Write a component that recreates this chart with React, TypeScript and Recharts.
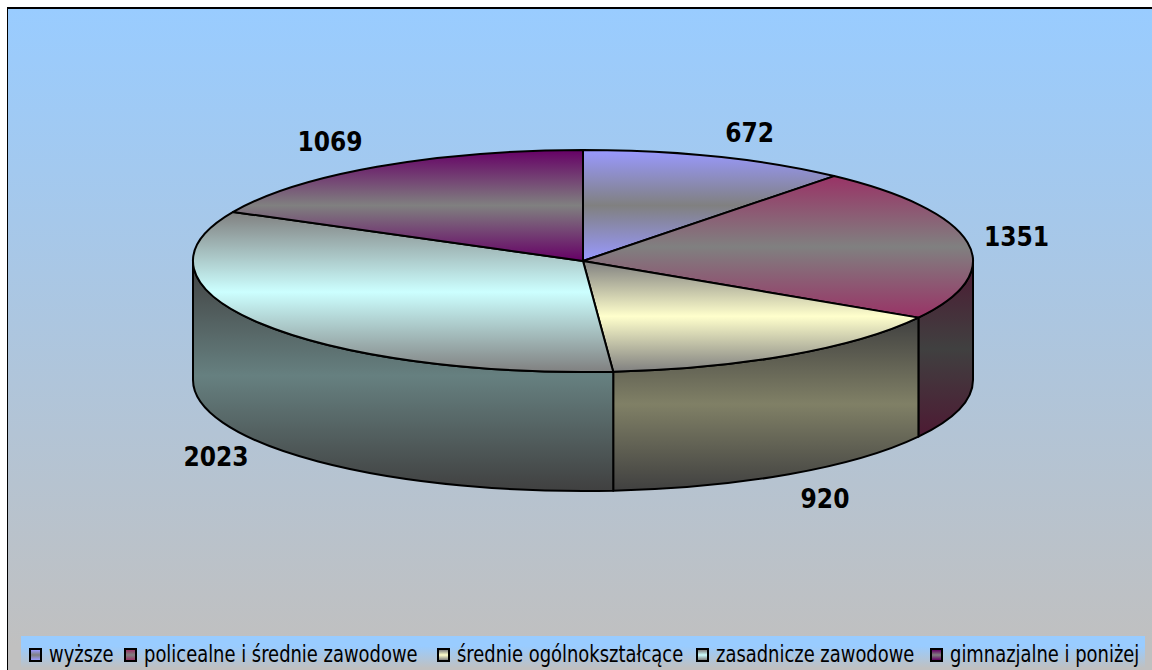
import { Legend, Pie, PieChart } from 'recharts'

const categories = ['wyższe', 'policealne i średnie zawodowe', 'średnie ogólnokształcące', 'zasadnicze zawodowe', 'gimnazjalne i poniżej']
const values = [672, 1351, 920, 2023, 1069]
const topEdge = ['#9999ff', '#993366', '#808080', '#808080', '#660066']
const topMiddle = ['#808080', '#808080', '#ffffcc', '#ccffff', '#808080']
const wallEdge = ['#4d4d80', '#4d1a33', '#404040', '#404040', '#330033']
const wallMiddle = ['#404040', '#404040', '#808066', '#668080', '#404040']
// where each value label sits relative to the rim of its slice
const labelNudgeX = [33, 49, 36, -44, -47]
const labelNudgeY = [-24, -5, 144, 134, -25]
const legendLeft = [29, 124, 437, 696, 930]

const RX = 390
const RY = 111
const DEPTH = 119
const CX = 583
const CY = 261

const data = categories.map((name, i) => ({ name, value: values[i], fill: topEdge[i] }))

function rim(angle: number, drop = 0) {
  const rad = (angle * Math.PI) / 180
  return `${CX + RX * Math.cos(rad)} ${CY - RY * Math.sin(rad) + drop}`
}

function Slice3D(props: any) {
  const { startAngle, endAngle, index } = props
  const large = startAngle - endAngle > 180 ? 1 : 0
  const wallStart = Math.min(startAngle, 0)
  const wallEnd = Math.max(endAngle, -180)
  const hasWall = wallStart > wallEnd
  return (
    <g>
      {hasWall && (
        <path
          d={`M ${rim(wallStart)} A ${RX} ${RY} 0 0 1 ${rim(wallEnd)} L ${rim(wallEnd, DEPTH)} A ${RX} ${RY} 0 0 0 ${rim(wallStart, DEPTH)} Z`}
          fill={`url(#wall${index})`}
          stroke="#000"
          strokeWidth={2}
          strokeLinejoin="round"
        />
      )}
      <path
        d={`M ${CX} ${CY} L ${rim(startAngle)} A ${RX} ${RY} 0 ${large} 1 ${rim(endAngle)} Z`}
        fill={`url(#top${index})`}
        stroke="#000"
        strokeWidth={2}
        strokeLinejoin="round"
      />
    </g>
  )
}

function ValueLabel(props: any) {
  const { midAngle, index, value } = props
  const rad = (midAngle * Math.PI) / 180
  const x = CX + RX * Math.cos(rad) + labelNudgeX[index]
  const y = CY - RY * Math.sin(rad) + labelNudgeY[index]
  return (
    <text x={x} y={y} textAnchor="middle" dominantBaseline="central" fill="#000" fontFamily="'DejaVu Sans'" fontWeight={700} fontSize={26} style={{ fontStretch: 'condensed' }}>
      {value}
    </text>
  )
}

function LegendBand() {
  return (
    <div style={{ position: 'absolute', left: 21, top: 636, width: 1124, height: 34, background: 'linear-gradient(#99ccff 30%, #c0c0c0 95%)' }}>
      {categories.map((name, i) => (
        <div key={name} style={{ position: 'absolute', left: legendLeft[i] - 21, top: 12, width: 13, height: 14, boxSizing: 'border-box', border: '2px solid #000', background: `linear-gradient(${topEdge[i]}, ${topMiddle[i]}, ${topEdge[i]})` }} />
      ))}
      {categories.map((name, i) => (
        <div
          key={`text${name}`}
          style={{
            position: 'absolute',
            left: legendLeft[i] - 21 + 20,
            top: 3,
            lineHeight: '30px',
            whiteSpace: 'nowrap',
            fontFamily: "'DejaVu Sans'",
            fontStretch: 'condensed',
            fontSize: 22.5,
            color: '#000',
            transform: 'scaleX(0.885)',
            transformOrigin: 'left center',
          }}
        >
          {name}
        </div>
      ))}
    </div>
  )
}

export default function App() {
  return (
    <div style={{ position: 'absolute', left: 0, top: 0, width: 1152, height: 670, background: '#fff', overflow: 'hidden' }}>
      <div style={{ position: 'absolute', left: 7, top: 7, width: 1145, height: 663, borderLeft: '1.5px solid #000', borderTop: '2px solid #000', background: 'linear-gradient(#99ccff, #c0c0c0 96%)' }} />
      <div style={{ position: 'absolute', left: 0, top: 0 }}>
        <PieChart width={1152} height={670} margin={{ top: 0, right: 0, bottom: 0, left: 0 }}>
          <defs>
            {categories.map((name, i) => (
              <linearGradient key={`top${name}`} id={`top${i}`} x1="0" y1="0" x2="0" y2="1">
                <stop offset="0" stopColor={topEdge[i]} />
                <stop offset="0.5" stopColor={topMiddle[i]} />
                <stop offset="1" stopColor={topEdge[i]} />
              </linearGradient>
            ))}
            {categories.map((name, i) => (
              <linearGradient key={`wall${name}`} id={`wall${i}`} x1="0" y1="0" x2="0" y2="1">
                <stop offset="0" stopColor={wallEdge[i]} />
                <stop offset="0.5" stopColor={wallMiddle[i]} />
                <stop offset="1" stopColor={wallEdge[i]} />
              </linearGradient>
            ))}
          </defs>
          <Pie
            data={data}
            dataKey="value"
            nameKey="name"
            cx={CX}
            cy={CY}
            outerRadius={RX}
            startAngle={90}
            endAngle={-270}
            paddingAngle={0}
            stroke="none"
            labelLine={false}
            label={ValueLabel}
            shape={Slice3D}
            isAnimationActive={false}
          />
          <Legend content={<LegendBand />} wrapperStyle={{ position: 'absolute', left: 0, top: 0, width: 0, height: 0 }} />
        </PieChart>
      </div>
    </div>
  )
}
